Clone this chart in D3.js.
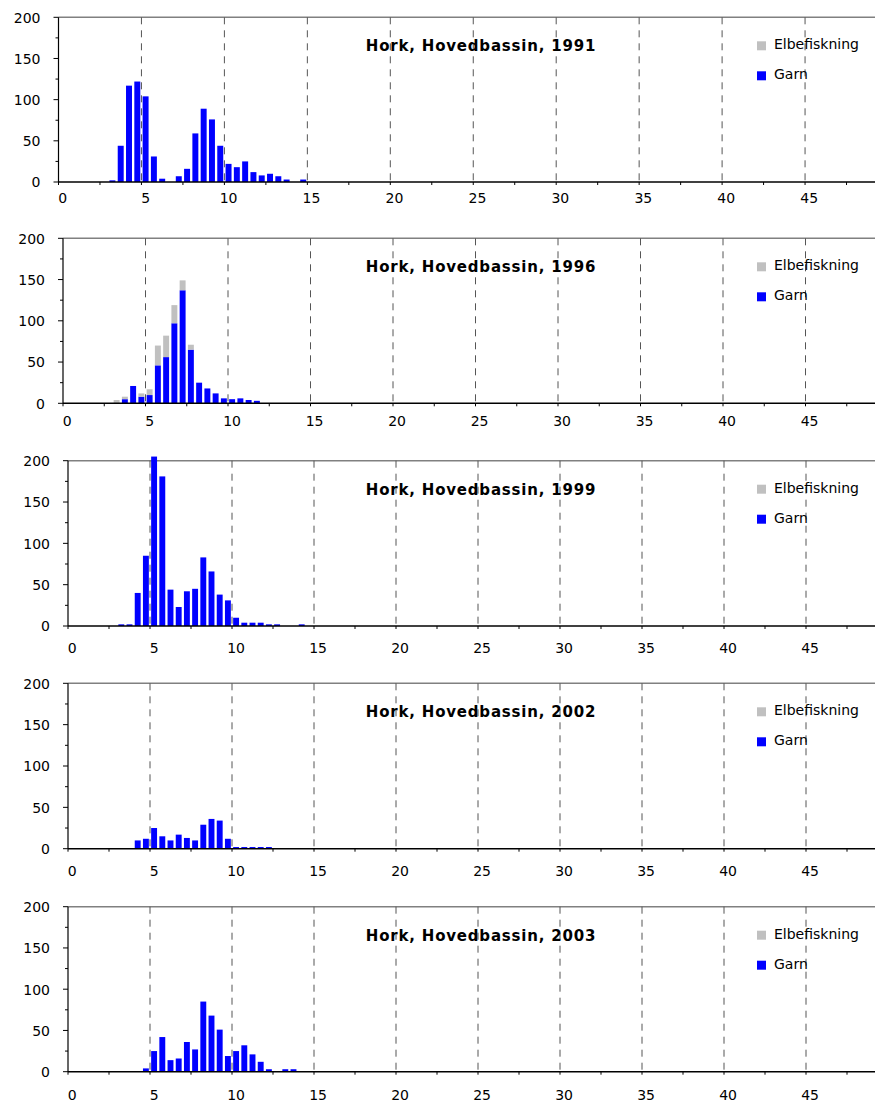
<!DOCTYPE html>
<html>
<head>
<meta charset="utf-8">
<script src="https://cdn.jsdelivr.net/npm/d3@7"></script>
<style>
  html, body { margin: 0; padding: 0; background: #fff; }
  svg { display: block; }
  text { font-family: "DejaVu Sans", sans-serif; fill: #000; }
</style>
</head>
<body>
<svg id="chart" width="875" height="1104"></svg>
<script>
// ---------- DATA ----------
// length classes (lower bound of each 0.5 cm class)
const lengthBins = [3.0, 3.5, 4.0, 4.5, 5.0, 5.5, 6.0, 6.5, 7.0, 7.5, 8.0, 8.5,
                    9.0, 9.5, 10.0, 10.5, 11.0, 11.5, 12.0, 12.5, 13.0, 13.5, 14.0, 14.5];
const panelTitles = ["Hork, Hovedbassin, 1991", "Hork, Hovedbassin, 1996", "Hork, Hovedbassin, 1999",
                     "Hork, Hovedbassin, 2002", "Hork, Hovedbassin, 2003"];
const seriesNames = ["Elbefiskning", "Garn"];

const garn1991 = [2, 44, 117, 122, 104, 31, 4, 0, 7, 16, 59, 89, 76, 44, 22, 18, 25, 12, 8, 10, 7, 3, 0, 3];
const elbe1991 = [0, 0, 0, 0, 0, 0, 0, 0, 0, 0, 0, 0, 0, 0, 0, 0, 0, 0, 0, 0, 0, 0, 0, 0];
const garn1996 = [0, 5, 21, 8, 10, 46, 56, 97, 137, 65, 25, 18, 12, 6, 5, 6, 4, 3, 0, 0, 0, 0, 0, 0];
const elbe1996 = [4, 3, 0, 4, 7, 24, 26, 22, 12, 6, 0, 0, 0, 0, 0, 0, 0, 0, 0, 0, 0, 0, 0, 0];
const garn1999 = [2, 2, 40, 85, 205, 181, 44, 23, 42, 45, 83, 66, 38, 31, 10, 4, 4, 4, 2, 2, 0, 0, 2, 0];
const elbe1999 = [0, 0, 0, 0, 0, 0, 0, 0, 0, 0, 0, 0, 0, 0, 0, 0, 0, 0, 0, 0, 0, 0, 0, 0];
const garn2002 = [0, 0, 10, 12, 25, 15, 10, 17, 13, 10, 29, 36, 34, 12, 2, 2, 2, 2, 2, 0, 0, 0, 0, 0];
const elbe2002 = [0, 0, 0, 0, 0, 0, 0, 0, 0, 0, 0, 0, 0, 0, 0, 0, 0, 0, 0, 0, 0, 0, 0, 0];
const garn2003 = [0, 0, 0, 4, 25, 42, 14, 16, 36, 27, 85, 68, 51, 19, 25, 32, 21, 12, 3, 0, 3, 3, 0, 0];
const elbe2003 = [0, 0, 0, 0, 0, 0, 0, 0, 0, 0, 0, 0, 0, 0, 0, 0, 0, 0, 0, 0, 0, 0, 0, 0];

const xLabelTicks = [0, 5, 10, 15, 20, 25, 30, 35, 40, 45];
const xGridTicks = [5, 10, 15, 20, 25, 30, 35, 40, 45];
const xMinorTicks = [0, 2.5, 5, 7.5, 10, 12.5, 15, 17.5, 20, 22.5, 25, 27.5, 30, 32.5, 35, 37.5, 40, 42.5, 45, 47.5];
const yLabelTicks = [0, 50, 100, 150, 200];
const yMinorTicks = [25, 75, 125, 175];

const garnSets = [garn1991, garn1996, garn1999, garn2002, garn2003];
const elbeSets = [elbe1991, elbe1996, elbe1999, elbe2002, elbe2003];

// ---------- LAYOUT ----------
const panelBoxes = [
  { left: 58.5, top: 17.3, bottom: 182.0, labelDy: 21 },
  { left: 63.0, top: 238.3, bottom: 403.3, labelDy: 23 },
  { left: 68.0, top: 460.7, bottom: 626.0, labelDy: 27 },
  { left: 68.0, top: 683.3, bottom: 848.7, labelDy: 27 },
  { left: 68.0, top: 906.7, bottom: 1071.7, labelDy: 28 }
];
const plotRight = 888;
const colors = { Garn: "#0000ff", Elbefiskning: "#c0c0c0" };
const barWidth = 0.36;

const svg = d3.select("#chart");

panelBoxes.forEach((box, i) => {
  const x = d3.scaleLinear().domain([0, 50]).range([box.left, plotRight]);
  const y = d3.scaleLinear().domain([0, 200]).range([box.bottom, box.top]);
  const g = svg.append("g");

  // top border
  g.append("line")
    .attr("x1", box.left).attr("x2", plotRight)
    .attr("y1", y(200)).attr("y2", y(200))
    .attr("stroke", "#808080").attr("stroke-width", 1.5);

  // dashed gridlines
  g.selectAll("line.grid").data(xGridTicks).enter().append("line")
    .attr("class", "grid")
    .attr("x1", d => x(d)).attr("x2", d => x(d))
    .attr("y1", y(200)).attr("y2", y(0))
    .attr("stroke", "#555").attr("stroke-width", 1)
    .attr("stroke-dasharray", "7,6");

  // stacked bars
  const rows = lengthBins.map((b, j) => ({ bin: b, Garn: garnSets[i][j], Elbefiskning: elbeSets[i][j] }));
  const stack = d3.stack().keys(["Garn", "Elbefiskning"])(rows);
  stack.forEach(layer => {
    g.append("g").attr("fill", colors[layer.key])
      .selectAll("rect").data(layer.filter(d => d[1] > d[0])).enter().append("rect")
      .attr("x", d => x(d.data.bin + 0.25 - barWidth / 2))
      .attr("width", d => x(d.data.bin + 0.25 + barWidth / 2) - x(d.data.bin + 0.25 - barWidth / 2))
      .attr("y", d => y(d[1]))
      .attr("height", d => y(d[0]) - y(d[1]));
  });

  // y axis
  g.append("line")
    .attr("x1", x(0)).attr("x2", x(0))
    .attr("y1", y(200)).attr("y2", y(0))
    .attr("stroke", "#000").attr("stroke-width", 1.2);
  g.selectAll("line.ymaj").data(yLabelTicks).enter().append("line")
    .attr("x1", x(0) - 5).attr("x2", x(0))
    .attr("y1", d => y(d)).attr("y2", d => y(d))
    .attr("stroke", "#000").attr("stroke-width", 1);
  g.selectAll("line.ymin").data(yMinorTicks).enter().append("line")
    .attr("x1", x(0) - 3).attr("x2", x(0))
    .attr("y1", d => y(d)).attr("y2", d => y(d))
    .attr("stroke", "#000").attr("stroke-width", 1);
  g.selectAll("text.ylab").data(yLabelTicks).enter().append("text")
    .attr("x", x(0) - 18).attr("y", d => y(d))
    .attr("dy", "0.38em")
    .attr("text-anchor", "end")
    .attr("font-size", 14)
    .text(d => d);

  // x axis
  g.append("line")
    .attr("x1", x(0)).attr("x2", plotRight)
    .attr("y1", y(0)).attr("y2", y(0))
    .attr("stroke", "#000").attr("stroke-width", 1.5);
  g.selectAll("line.xt").data(xMinorTicks).enter().append("line")
    .attr("x1", d => x(d)).attr("x2", d => x(d))
    .attr("y1", y(0)).attr("y2", y(0) + 3)
    .attr("stroke", "#000").attr("stroke-width", 1);
  g.selectAll("text.xlab").data(xLabelTicks).enter().append("text")
    .attr("x", d => x(d + 0.25)).attr("y", y(0) + box.labelDy)
    .attr("text-anchor", "middle")
    .attr("font-size", 14)
    .text(d => d);

  // title
  g.append("text")
    .attr("x", 481).attr("y", box.top + 34)
    .attr("text-anchor", "middle")
    .attr("font-size", 15).attr("font-weight", "bold")
    .attr("letter-spacing", "0.8px")
    .text(panelTitles[i]);

  // legend
  seriesNames.forEach((name, k) => {
    g.append("rect")
      .attr("x", 757).attr("y", box.top + 24 + k * 30)
      .attr("width", 9).attr("height", 9)
      .attr("fill", colors[name]);
    g.append("text")
      .attr("x", 774).attr("y", box.top + 32 + k * 30)
      .attr("font-size", 14)
      .text(name);
  });
});
</script>
</body>
</html>
